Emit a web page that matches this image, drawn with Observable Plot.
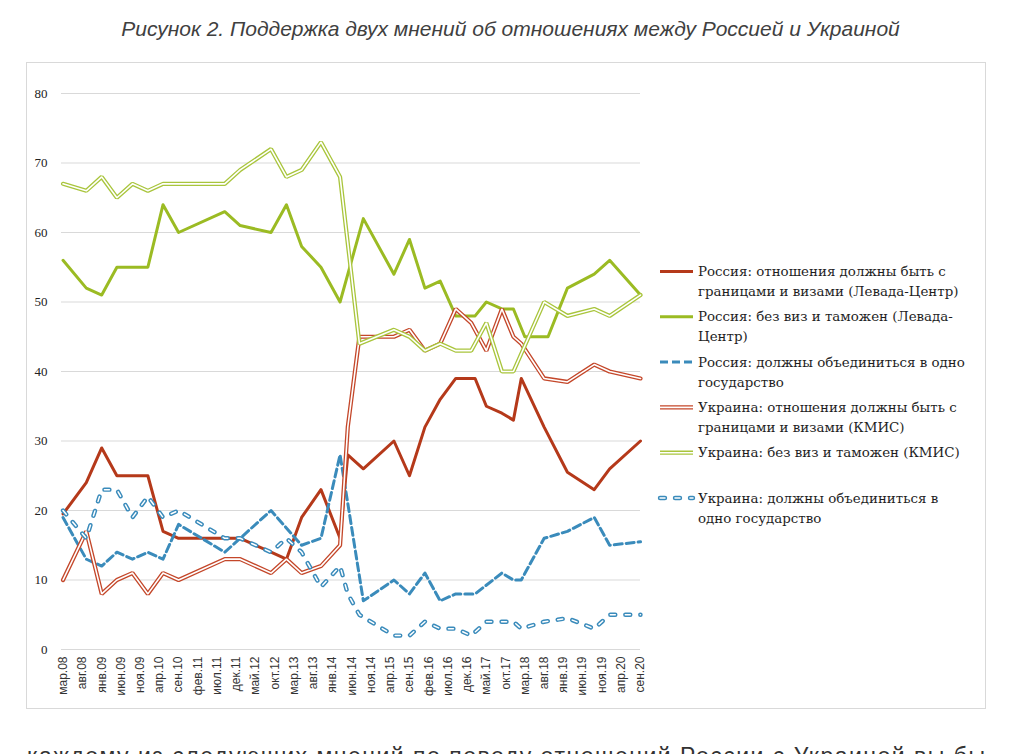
<!DOCTYPE html>
<html>
<head>
<meta charset="utf-8">
<script src="https://cdn.jsdelivr.net/npm/d3@7"></script>
<script src="https://cdn.jsdelivr.net/npm/@observablehq/plot@0.6"></script>
<style>
  html, body { margin: 0; padding: 0; background: #fff; }
  #page { position: relative; width: 1021px; height: 754px; overflow: hidden; background: #fff; }
  #title { position: absolute; left: 0; width: 1021px; top: 17px; text-align: center;
    font-family: "Liberation Sans", Arial, sans-serif; font-style: italic; font-size: 21px; color: #404040; }
  #frame { position: absolute; left: 26px; top: 62px; width: 958px; height: 645px; border: 1px solid #d9d9d9; }
  #plot { position: absolute; left: 0; top: 0; }
  #overlay { position: absolute; left: 0; top: 0; }
</style>
</head>
<body>
<div id="page">
  <div id="title">Рисунок 2. Поддержка двух мнений об отношениях между Россией и Украиной</div>
  <div id="frame"></div>
  <div id="plot"></div>
  <svg id="overlay" width="1021" height="754"></svg>
</div>
<script>
// ---------- DATA ----------
const xTickLabels = ["мар.08","авг.08","янв.09","июн.09","ноя.09","апр.10","сен.10","фев.11","июл.11","дек.11",
  "май.12","окт.12","мар.13","авг.13","янв.14","июн.14","ноя.14","апр.15","сен.15","фев.16","июл.16","дек.16",
  "май.17","окт.17","мар.18","авг.18","янв.19","июн.19","ноя.19","апр.20","сен.20"];
const ruMonthNames = ["янв","фев","мар","апр","май","июн","июл","авг","сен","окт","ноя","дек"];
const yTicks = [0, 10, 20, 30, 40, 50, 60, 70, 80];

// Россия: отношения должны быть с границами и визами (Левада-Центр)
const ruBorders = [["2008-03",19.5],["2008-09",24],["2009-01",29],["2009-05",25],["2010-01",25],["2010-05",17],
  ["2010-09",16],["2011-09",16],["2012-01",16],["2012-09",14],["2013-01",13],["2013-05",19],["2013-10",23],
  ["2014-03",16],["2014-05",28],["2014-09",26],["2015-05",30],["2015-09",25],["2016-01",32],["2016-05",36],
  ["2016-09",39],["2017-02",39],["2017-05",35],["2017-09",34],["2017-12",33],["2018-02",39],["2018-08",32],
  ["2019-02",25.5],["2019-09",23],["2020-01",26],["2020-09",30]];
// Россия: без виз и таможен (Левада-Центр)
const ruNoVisa = [["2008-03",56],["2008-09",52],["2009-01",51],["2009-05",55],["2010-01",55],["2010-05",64],
  ["2010-09",60],["2011-09",63],["2012-01",61],["2012-09",60],["2013-01",64],["2013-05",58],["2013-10",55],
  ["2014-03",50],["2014-09",62],["2015-05",54],["2015-09",59],["2016-01",52],["2016-05",53],["2016-09",48],
  ["2017-02",48],["2017-05",50],["2017-09",49],["2017-12",49],["2018-03",45],["2018-09",45],["2019-02",52],
  ["2019-09",54],["2020-01",56],["2020-09",51]];
// Россия: должны объединиться в одно государство
const ruUnite = [["2008-03",19],["2008-09",13],["2009-01",12],["2009-05",14],["2009-09",13],["2010-01",14],
  ["2010-05",13],["2010-09",18],["2011-09",14],["2012-09",20],["2013-05",15],["2013-10",16],["2014-03",28],
  ["2014-09",7],["2015-05",10],["2015-09",8],["2016-01",11],["2016-05",7],["2016-09",8],["2017-02",8],
  ["2017-09",11],["2017-12",10],["2018-02",10],["2018-08",16],["2019-02",17],["2019-09",19],["2020-01",15],
  ["2020-09",15.5]];
// Украина: отношения должны быть с границами и визами (КМИС)
const uaBorders = [["2008-03",10],["2008-09",17],["2009-01",8],["2009-05",10],["2009-09",11],["2010-01",8],
  ["2010-05",11],["2010-09",10],["2011-09",13],["2012-01",13],["2012-09",11],["2013-01",13],["2013-05",11],
  ["2013-10",12],["2014-03",15],["2014-05",32],["2014-08",45],["2015-05",45],["2015-09",46],["2016-01",43],
  ["2016-05",44],["2016-09",49],["2017-01",47],["2017-05",43],["2017-09",49],["2017-12",45],["2018-02",44],
  ["2018-08",39],["2019-02",38.5],["2019-09",41],["2020-01",40],["2020-09",39]];
// Украина: без виз и таможен (КМИС)
const uaNoVisa = [["2008-03",67],["2008-09",66],["2009-01",68],["2009-05",65],["2009-09",67],["2010-01",66],
  ["2010-05",67],["2011-09",67],["2012-01",69],["2012-09",72],["2013-01",68],["2013-05",69],["2013-10",73],
  ["2014-03",68],["2014-08",44],["2015-05",46],["2015-09",45],["2016-01",43],["2016-05",44],["2016-09",43],
  ["2017-01",43],["2017-05",47],["2017-09",40],["2017-12",40],["2018-08",50],["2019-02",48],["2019-09",49],
  ["2020-01",48],["2020-09",51]];
// Украина: должны объединиться в одно государство
const uaUnite = [["2008-03",20],["2008-09",16],["2009-01",23],["2009-05",23],["2009-09",19],["2010-01",22],
  ["2010-05",19],["2010-09",20],["2011-09",16],["2012-01",16],["2012-09",14],["2013-01",16],["2013-05",14],
  ["2013-10",9],["2014-03",12],["2014-05",8],["2014-08",5],["2015-05",2],["2015-09",2],["2016-01",4],
  ["2016-05",3],["2016-09",3],["2017-01",2],["2017-05",4],["2017-09",4],["2017-12",4],["2018-02",3],
  ["2018-08",4],["2019-02",4.5],["2019-09",3],["2020-01",5],["2020-09",5]];

const legendLabels = [
  "Россия: отношения должны быть с\nграницами и визами (Левада-Центр)",
  "Россия: без виз и таможен (Левада-\nЦентр)",
  "Россия: должны объединиться в одно\nгосударство",
  "Украина: отношения должны быть с\nграницами и визами (КМИС)",
  "Украина: без виз и таможен (КМИС)",
  "Украина: должны объединиться в\nодно государство"
];
const footerText = "каждому из следующих мнений по поводу отношений России с Украиной вы бы";

// ---------- STYLES ----------
const RED = "#b5391a", RED2 = "#c4472a", GREEN = "#9bbb23", GREEN2 = "#a9c53c", BLUE = "#3a8bbb";
const seriesStyles = [
  {data: ruBorders, kind: "solid", color: RED},
  {data: ruNoVisa, kind: "solid", color: GREEN},
  {data: ruUnite, kind: "dash", color: BLUE},
  {data: uaBorders, kind: "double", color: RED2},
  {data: uaNoVisa, kind: "double", color: GREEN2},
  {data: uaUnite, kind: "pill", color: BLUE}
];

const parseDate = s => new Date(s.length === 7 ? s + "-01" : s);
const tickDates = xTickLabels.map(s => {
  const [m, y] = s.split(".");
  return new Date(Date.UTC(2000 + (+y), ruMonthNames.indexOf(m), 1));
});
const labelByTime = new Map(tickDates.map((d, i) => [+d, xTickLabels[i]]));

function lineMarks(st) {
  const ch = {x: d => parseDate(d[0]), y: d => d[1]};
  if (st.kind === "solid") return [Plot.line(st.data, {...ch, stroke: st.color, strokeWidth: 3, strokeLinejoin: "round"})];
  if (st.kind === "dash") return [Plot.line(st.data, {...ch, stroke: st.color, strokeWidth: 3, strokeDasharray: "8,4", strokeLinejoin: "round"})];
  if (st.kind === "double") return [
    Plot.line(st.data, {...ch, stroke: st.color, strokeWidth: 4.2, strokeLinejoin: "miter"}),
    Plot.line(st.data, {...ch, stroke: "#fff", strokeWidth: 1.6, strokeLinejoin: "miter"})
  ];
  return [
    Plot.line(st.data, {...ch, stroke: st.color, strokeWidth: 4.4, strokeDasharray: "5,10", strokeLinecap: "round"}),
    Plot.line(st.data, {...ch, stroke: "#fff", strokeWidth: 1.5, strokeDasharray: "5,10", strokeLinecap: "round"})
  ];
}

const chart = Plot.plot({
  width: 650,
  height: 710,
  marginLeft: 61,
  marginRight: 10,
  marginTop: 93,
  marginBottom: 61,
  style: {background: "transparent", overflow: "visible"},
  x: {type: "utc", domain: [new Date("2008-02-18"), new Date("2020-09-01")]},
  y: {domain: [0, 80]},
  marks: [
    Plot.ruleY(yTicks, {stroke: "#d9d9d9", strokeWidth: 1}),
    Plot.axisY({ticks: yTicks, tickSize: 0, tickPadding: 14, label: null,
      fontFamily: "Liberation Serif, serif", fontSize: 13, fill: "#222"}),
    Plot.axisX({ticks: tickDates, tickFormat: d => labelByTime.get(+d), tickRotate: -90, tickSize: 0,
      tickPadding: 7, label: null, fontFamily: "Liberation Sans, Arial, sans-serif", fontSize: 12, fill: "#333"}),
    ...seriesStyles.flatMap(lineMarks)
  ]
});
document.getElementById("plot").appendChild(chart);

// ---------- LEGEND ----------
const svg = d3.select("#overlay");
const lg = svg.append("g");
legendLabels.forEach((lab, i) => {
  const st = seriesStyles[i];
  const y = 271.5 + i * 45.3;
  const g = lg.append("g");
  const seg = (stroke, w, dash, cap) => g.append("line").attr("x1", 660).attr("x2", 693)
    .attr("y1", y).attr("y2", y).attr("stroke", stroke).attr("stroke-width", w)
    .attr("stroke-dasharray", dash).attr("stroke-linecap", cap);
  if (st.kind === "solid") seg(st.color, 3, null, "butt");
  else if (st.kind === "dash") seg(st.color, 3, "8,4", "butt");
  else if (st.kind === "double") { seg(st.color, 4.2, null, "butt"); seg("#fff", 1.6, null, "butt"); }
  else { seg(st.color, 4.4, "5,10", "round"); seg("#fff", 1.5, "5,10", "round"); }
  const t = g.append("text").attr("x", 698).attr("y", y)
    .attr("font-family", "DejaVu Serif, serif").attr("font-size", 13.4).attr("fill", "#1e1e1e");
  lab.split("\n").forEach((line, j) => {
    t.append("tspan").attr("x", 698).attr("dy", j === 0 ? "0.35em" : 20).text(line);
  });
});

// cut-off text line below the figure (as in the reference screenshot)
svg.append("text").attr("x", 27).attr("y", 764).attr("textLength", 958).attr("lengthAdjust", "spacing")
  .attr("font-family", "Liberation Sans, Arial, sans-serif").attr("font-size", 23).attr("fill", "#333")
  .text(footerText);
</script>
</body>
</html>
